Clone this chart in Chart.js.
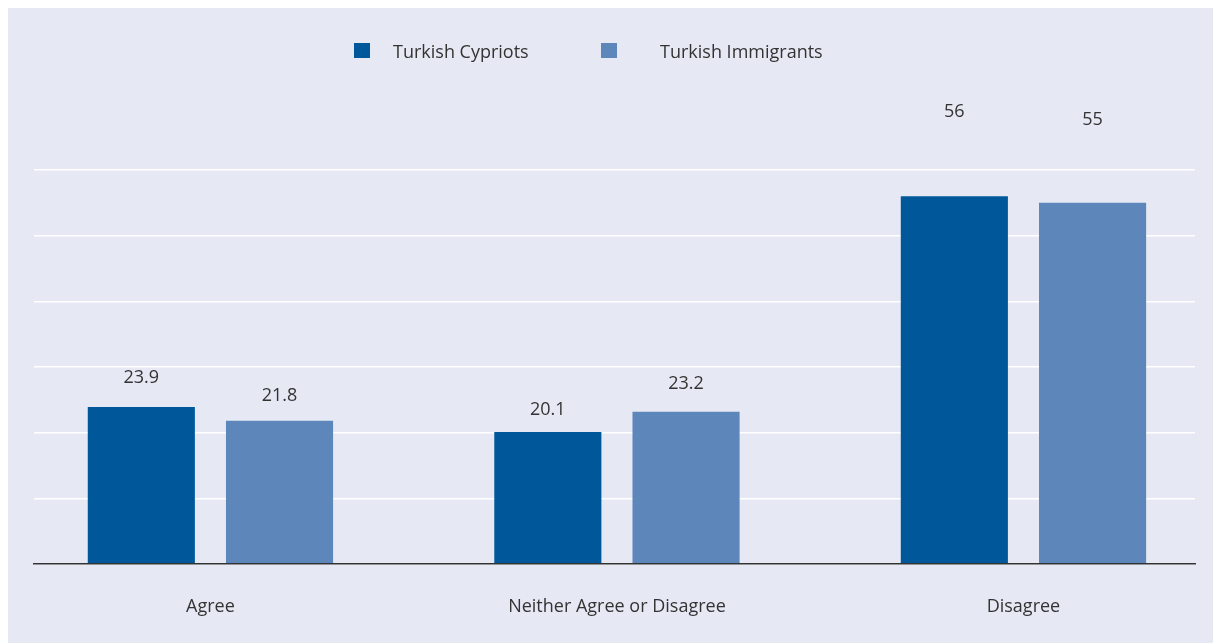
<!DOCTYPE html>
<html>
<head>
<meta charset="utf-8">
<script src="https://cdn.jsdelivr.net/npm/chart.js@4.4.0/dist/chart.umd.min.js"></script>
<style>
  body { margin: 0; background: #ffffff; }
  #panel { position: absolute; left: 8px; top: 8px; width: 1205px; height: 635px; background: #e6e9f4; }
</style>
</head>
<body>
<div id="panel"><canvas id="myChart" width="1205" height="635"></canvas></div>
<script>
const categories = ['Agree', 'Neither Agree or Disagree', 'Disagree'];
const seriesNames = ['Turkish Cypriots', 'Turkish Immigrants'];
const cypriots = [23.9, 20.1, 56];
const immigrants = [21.8, 23.2, 55];
const yMax = 60;
const yStep = 10;

const colors = ['#00589b', '#5d87bb'];
const textColor = '#333333';
const fontFamily = '"Open Sans", sans-serif';

// legend row above the plot: square then name, one slot per series
const legendBoxX = [346, 593];
const legendTextX = [385, 652];
const legendRow = {
  id: 'legendRow',
  afterDraw(chart) {
    const ctx = chart.ctx;
    ctx.save();
    ctx.font = '18px ' + fontFamily;
    ctx.textBaseline = 'alphabetic';
    chart.data.datasets.forEach((ds, i) => {
      ctx.fillStyle = ds.backgroundColor;
      ctx.fillRect(legendBoxX[i], 35, 16, 15);
      ctx.fillStyle = textColor;
      ctx.fillText(ds.label, legendTextX[i], 50);
    });
    ctx.restore();
  }
};

// numbers over the bars, placed on their own hidden axis (yLabel)
const valueLabels = {
  id: 'valueLabels',
  afterDatasetsDraw(chart) {
    const ctx = chart.ctx;
    const labelAxis = chart.scales.yLabel;
    ctx.save();
    ctx.font = '18px ' + fontFamily;
    ctx.fillStyle = textColor;
    ctx.textAlign = 'center';
    ctx.textBaseline = 'alphabetic';
    chart.data.datasets.forEach((ds, i) => {
      chart.getDatasetMeta(i).data.forEach((bar, j) => {
        const v = ds.data[j].y;
        ctx.fillText(String(v), bar.x, labelAxis.getPixelForValue(v) + 6.5);
      });
    });
    ctx.restore();
  }
};

const toPoints = (values) => values.map((v, i) => ({ x: i, y: v }));

new Chart(document.getElementById('myChart'), {
  type: 'bar',
  data: {
    datasets: [
      { label: seriesNames[0], data: toPoints(cypriots), backgroundColor: colors[0] },
      { label: seriesNames[1], data: toPoints(immigrants), backgroundColor: colors[1] }
    ]
  },
  options: {
    responsive: false,
    animation: false,
    layout: { padding: { left: 26, right: 18, top: 162, bottom: 0 } },
    datasets: {
      bar: { categoryPercentage: 0.68, barPercentage: 0.775, borderWidth: 0 }
    },
    plugins: {
      legend: { display: false },
      tooltip: { enabled: false }
    },
    scales: {
      x: {
        type: 'linear',
        min: -0.434,
        max: 2.422,
        offset: false,
        afterBuildTicks: (scale) => {
          scale.ticks = categories.map((c, i) => ({ value: i }));
        },
        afterFit: (scale) => {
          scale.height = 79;
        },
        grid: { display: false, offset: false },
        border: { display: true, color: '#333333', width: 1.5, z: 1 },
        ticks: {
          padding: 24,
          color: textColor,
          font: { family: fontFamily, size: 18 },
          maxRotation: 0,
          autoSkip: false,
          callback: (v) => categories[v]
        }
      },
      y: {
        min: 0,
        max: yMax,
        ticks: { display: false, stepSize: yStep },
        grid: { color: '#ffffff', lineWidth: 1.5, drawTicks: false },
        border: { display: false }
      },
      yLabel: {
        type: 'linear',
        display: false,
        min: 1.4,
        max: 48.8
      }
    }
  },
  plugins: [valueLabels, legendRow]
});
</script>
</body>
</html>
